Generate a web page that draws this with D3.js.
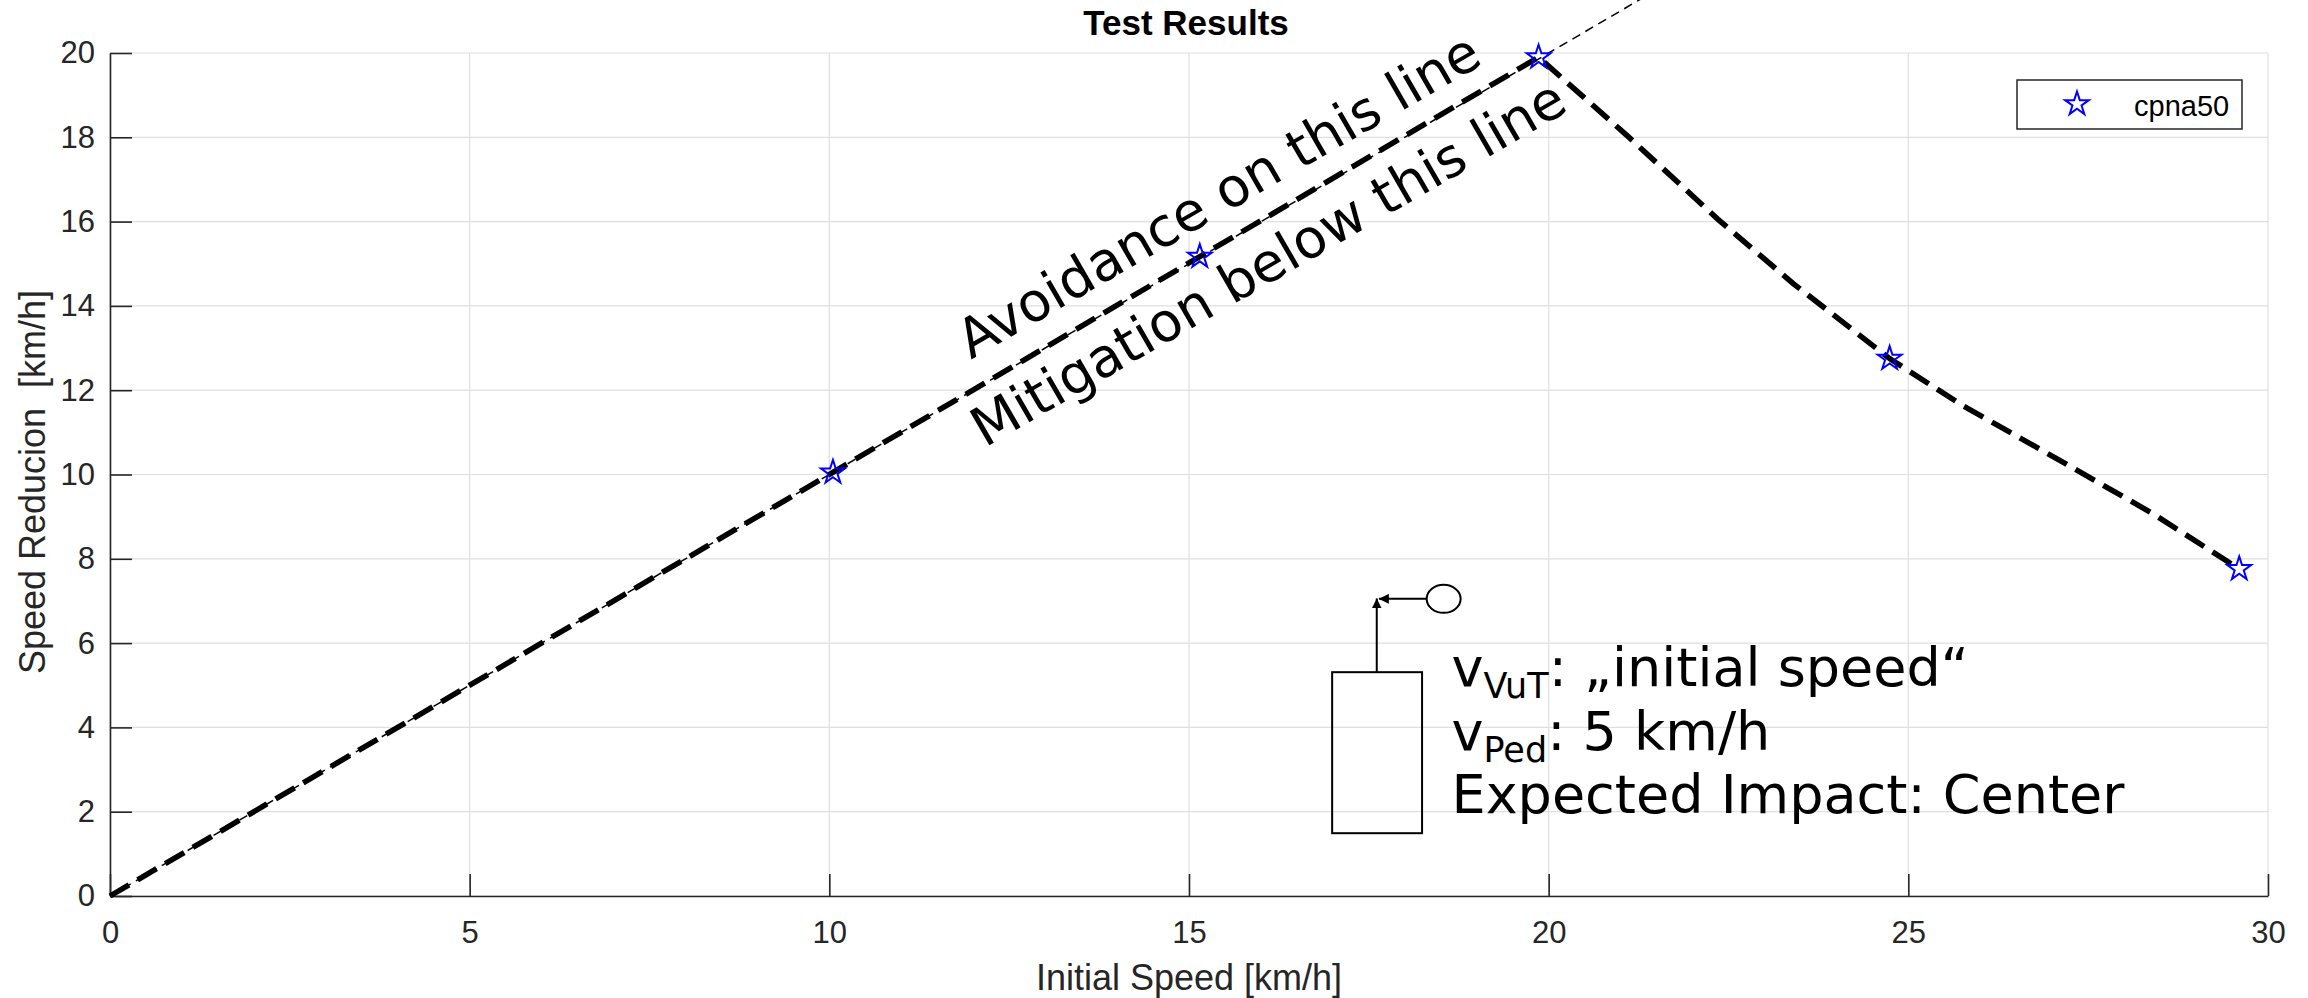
<!DOCTYPE html>
<html>
<head>
<meta charset="utf-8">
<script src="https://cdn.jsdelivr.net/npm/d3@7"></script>
<style>
	body { margin: 0; background: #fff; }
	svg { display: block; }
</style>
</head>
<body>
<svg id="chart"></svg>
<script>
// measured test points (cpna50)
var testSpeed = [10.05, 15.15, 19.86, 24.74, 29.6];
var testReduction = [10.05, 15.17, 19.9, 12.75, 7.76];

// thick dashed result curve
var curveSpeed = [0, 10.05, 15.15, 19.86, 21.11, 22.35, 23.4, 24.74, 25.76, 27.08, 28.39, 29.6];
var curveReduction = [0, 10.05, 15.17, 19.9, 18.01, 16.06, 14.53, 12.75, 11.63, 10.36, 9.08, 7.76];

// thin avoidance reference line (reduction = initial speed)
var refSpeed = [0, 30];
var refReduction = [0, 30];

var xTickValues = [0, 5, 10, 15, 20, 25, 30];
var yTickValues = [0, 2, 4, 6, 8, 10, 12, 14, 16, 18, 20];

var seriesName = "cpna50";

(function () {
	var width = 2308,
		height = 998,
		margin = {top: 53, right: 40, bottom: 102, left: 110};

	var axisColor = "#262626",
		gridColor = "#dfdfdf",
		armFont = "'Liberation Sans', Arial, sans-serif",
		noteFont = "'DejaVu Sans', Verdana, sans-serif";

	var svg = d3.select("#chart")
		.attr("width", width)
		.attr("height", height);

	var x = d3.scaleLinear().domain([0, 30]).range([margin.left, width - margin.right]);
	var y = d3.scaleLinear().domain([0, 20]).range([height - margin.bottom, margin.top]);

	// grid
	var grid = svg.append("g").attr("class", "grid");
	grid.selectAll(".gx")
		.data(xTickValues)
		.enter().append("line")
		.attr("x1", function(d) { return x(d); })
		.attr("x2", function(d) { return x(d); })
		.attr("y1", y(0))
		.attr("y2", y(20));
	grid.selectAll(".gy")
		.data(yTickValues)
		.enter().append("line")
		.attr("x1", x(0))
		.attr("x2", x(30))
		.attr("y1", function(d) { return y(d); })
		.attr("y2", function(d) { return y(d); });
	grid.selectAll("line")
		.attr("stroke", gridColor)
		.attr("stroke-width", 1.2);

	// axes, ticks point inwards like matlab
	var xAxis = svg.append("g")
		.attr("transform", "translate(0," + y(0) + ")")
		.call(d3.axisBottom(x).tickValues(xTickValues).tickSizeInner(-22).tickSizeOuter(0).tickPadding(25));
	var yAxis = svg.append("g")
		.attr("transform", "translate(" + x(0) + ",0)")
		.call(d3.axisLeft(y).tickValues(yTickValues).tickSizeInner(-22).tickSizeOuter(0).tickPadding(15));

	[xAxis, yAxis].forEach(function(a) {
		a.select(".domain").attr("stroke", axisColor).attr("stroke-width", 1.6);
		a.selectAll(".tick line").attr("stroke", axisColor).attr("stroke-width", 1.6);
		a.selectAll(".tick text")
			.attr("fill", axisColor)
			.style("font-family", armFont)
			.style("font-size", "31px");
	});

	// labels and title
	svg.append("text")
		.attr("x", (x(0) + x(30)) / 2)
		.attr("y", 990)
		.attr("text-anchor", "middle")
		.attr("fill", axisColor)
		.style("font-family", armFont)
		.style("font-size", "36px")
		.text("Initial Speed [km/h]");

	svg.append("text")
		.attr("transform", "translate(45," + 482 + ") rotate(-90)")
		.attr("text-anchor", "middle")
		.attr("fill", axisColor)
		.style("font-family", armFont)
		.style("font-size", "36px")
		.style("white-space", "pre")
		.text("Speed Reducion  [km/h]");

	svg.append("text")
		.attr("x", 1186)
		.attr("y", 35)
		.attr("text-anchor", "middle")
		.attr("fill", "#000")
		.style("font-family", armFont)
		.style("font-size", "35px")
		.style("font-weight", "bold")
		.text("Test Results");

	// lines
	var line = d3.line()
		.x(function(d) { return x(d[0]); })
		.y(function(d) { return y(d[1]); });

	svg.append("path")
		.datum(d3.zip(refSpeed, refReduction))
		.attr("d", line)
		.attr("fill", "none")
		.attr("stroke", "#000")
		.attr("stroke-width", 1.5)
		.attr("stroke-dasharray", "9,6");

	svg.append("path")
		.datum(d3.zip(curveSpeed, curveReduction))
		.attr("d", line)
		.attr("fill", "none")
		.attr("stroke", "#000")
		.attr("stroke-width", 5.5)
		.attr("stroke-dasharray", "22,10");

	// pentagram marker
	function starPath(r) {
		var pts = [];
		for (var i = 0; i < 10; i++) {
			var rr = i % 2 === 0 ? r : r * 0.382;
			var a = -Math.PI / 2 + i * Math.PI / 5;
			pts.push([rr * Math.cos(a), rr * Math.sin(a)]);
		}
		return "M" + pts.join("L") + "Z";
	}

	svg.selectAll(".star")
		.data(d3.zip(testSpeed, testReduction))
		.enter().append("path")
		.attr("class", "star")
		.attr("transform", function(d) { return "translate(" + x(d[0]) + "," + y(d[1]) + ")"; })
		.attr("d", starPath(12.5))
		.attr("fill", "none")
		.attr("stroke", "#0000ff")
		.attr("stroke-width", 2);

	// annotations along the line
	var noteAngle = -30;
	[
		{text: "Avoidance on this line", at: [11.97, 12.72]},
		{text: "Mitigation below this line", at: [12.16, 10.63]}
	].forEach(function(n) {
		svg.append("text")
			.attr("transform", "translate(" + x(n.at[0]) + "," + y(n.at[1]) + ") rotate(" + noteAngle + ")")
			.attr("fill", "#000")
			.style("font-family", noteFont)
			.style("font-size", "54px")
			.text(n.text);
	});

	// test setup sketch: vehicle box, arrows and pedestrian
	var defs = svg.append("defs");
	defs.append("marker")
		.attr("id", "arrow")
		.attr("viewBox", "0 0 10 10")
		.attr("refX", 10)
		.attr("refY", 5)
		.attr("markerWidth", 10)
		.attr("markerHeight", 10)
		.attr("markerUnits", "userSpaceOnUse")
		.attr("orient", "auto")
		.append("path")
		.attr("d", "M0,0L10,5L0,10Z")
		.attr("fill", "#000");

	var sketch = svg.append("g")
		.attr("fill", "none")
		.attr("stroke", "#000")
		.attr("stroke-width", 2);

	sketch.append("rect")
		.attr("x", x(16.99))
		.attr("y", y(5.31))
		.attr("width", x(18.24) - x(16.99))
		.attr("height", y(1.49) - y(5.31));

	sketch.append("line")
		.attr("x1", x(17.61)).attr("y1", y(5.31))
		.attr("x2", x(17.61)).attr("y2", y(7.06))
		.attr("marker-end", "url(#arrow)");

	sketch.append("line")
		.attr("x1", x(18.3)).attr("y1", y(7.05))
		.attr("x2", x(17.64)).attr("y2", y(7.05))
		.attr("marker-end", "url(#arrow)");

	sketch.append("ellipse")
		.attr("cx", x(18.54))
		.attr("cy", y(7.05))
		.attr("rx", 17)
		.attr("ry", 14);

	var setupLines = [
		{main: "v", sub: "VuT", rest: ": \u201Einitial speed\u201C", at: 4.98},
		{main: "v", sub: "Ped", rest: ": 5 km/h", at: 3.46},
		{main: "Expected Impact: Center", sub: "", rest: "", at: 1.97}
	];
	setupLines.forEach(function(l) {
		var t = svg.append("text")
			.attr("x", x(18.65))
			.attr("y", y(l.at))
			.attr("fill", "#000")
			.style("font-family", noteFont)
			.style("font-size", "54px");
		t.append("tspan").text(l.main);
		if (l.sub) {
			t.append("tspan").attr("dy", 12).style("font-size", "35px").text(l.sub);
			t.append("tspan").attr("dy", -12).text(l.rest);
		}
	});

	// legend
	var legend = svg.append("g");
	legend.append("rect")
		.attr("x", 2017).attr("y", 80)
		.attr("width", 225).attr("height", 49)
		.attr("fill", "#fff")
		.attr("stroke", axisColor)
		.attr("stroke-width", 1.5);
	legend.append("path")
		.attr("transform", "translate(2077,104)")
		.attr("d", starPath(12.5))
		.attr("fill", "none")
		.attr("stroke", "#0000ff")
		.attr("stroke-width", 2);
	legend.append("text")
		.attr("x", 2134)
		.attr("y", 116)
		.attr("fill", "#000")
		.style("font-family", armFont)
		.style("font-size", "29px")
		.text(seriesName);
})();
</script>
</body>
</html>
